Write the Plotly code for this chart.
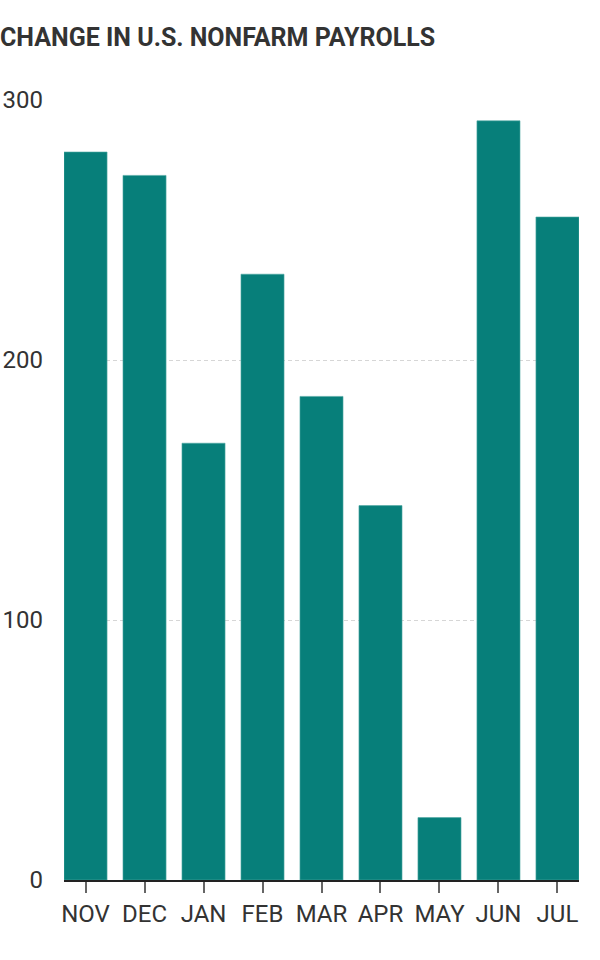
import plotly.graph_objects as go

months = ["NOV", "DEC", "JAN", "FEB", "MAR", "APR", "MAY", "JUN", "JUL"]
payroll_change = [280, 271, 168, 233, 186, 144, 24, 292, 255]
y_ticks = [0, 100, 200, 300]
title_text = "CHANGE IN U.S. NONFARM PAYROLLS"

FONT = "Roboto, sans-serif"

fig = go.Figure(
    go.Bar(
        x=months,
        y=payroll_change,
        width=0.73,
        marker=dict(color="#077f7a", line=dict(color="#4fa8a3", width=0.6)),
        hoverinfo="x+y",
    )
)

fig.update_layout(
    width=600,
    height=960,
    margin=dict(l=64, r=21, t=100, b=80, autoexpand=False),
    paper_bgcolor="white",
    plot_bgcolor="white",
    showlegend=False,
    font=dict(family=FONT, color="#333333"),
    title=dict(
        text="<b>" + title_text + "</b>",
        x=0, xref="container", xanchor="left",
        y=1, yref="container", yanchor="top",
        pad=dict(t=28, l=0),
        font=dict(family=FONT, size=25, color="#333333"),
    ),
)

fig.update_xaxes(
    range=[-0.365, 8.365],
    showline=True, linecolor="#222222", linewidth=2,
    ticks="outside", ticklen=11, tickwidth=1.5, tickcolor="#666666",
    tickangle=0, automargin=False,
    tickfont=dict(family=FONT, size=24, color="#333333"),
    showgrid=False, zeroline=False,
    fixedrange=True,
)
fig.update_yaxes(
    range=[0, 300],
    tickvals=y_ticks,
    tickfont=dict(family=FONT, size=24, color="#333333"),
    showgrid=True, gridcolor="#d6d6d6", griddash="4px,3px", gridwidth=1,
    zeroline=False, showline=False, automargin=False,
    ticks="", ticklabelstandoff=20,
    fixedrange=True,
)

fig.write_html(
    "out.html",
    config={"displayModeBar": False},
    post_script="document.body.style.margin='0';document.body.style.padding='0';",
)
